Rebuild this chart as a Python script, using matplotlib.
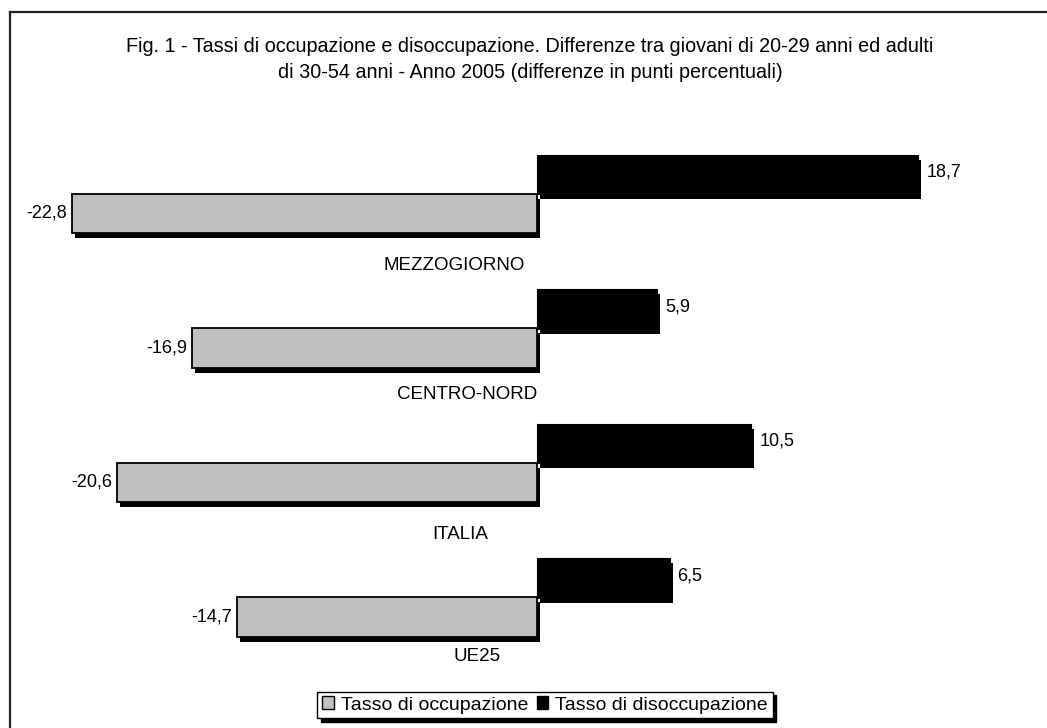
import matplotlib.pyplot as plt
from matplotlib.patches import Patch
from matplotlib.lines import Line2D
from matplotlib.transforms import ScaledTranslation

plt.rcParams['font.family'] = ['Liberation Sans', 'DejaVu Sans']

# Data: differences (percentage points) between 20-29 and 30-54 year olds, 2005
areas = ["MEZZOGIORNO", "CENTRO-NORD", "ITALIA", "UE25"]
occupazione = [-22.8, -16.9, -20.6, -14.7]
disoccupazione = [18.7, 5.9, 10.5, 6.5]
series_names = ["Tasso di occupazione", "Tasso di disoccupazione"]

title_lines = [
    "Fig. 1 - Tassi di occupazione e disoccupazione. Differenze tra giovani di 20-29 anni ed adulti",
    "di 30-54 anni - Anno 2005 (differenze in punti percentuali)",
]

W, H, DPI = 1047, 728, 100
fig = plt.figure(figsize=(W / DPI, H / DPI), dpi=DPI)
ax = fig.add_axes([0, 0, 1, 1])
ax.axis("off")

# horizontal scale: zero line at px 537, ~20.4 px per point
zero_px, px_unit = 537, 20.4
ax.set_xlim((0 - zero_px) / px_unit, (W - zero_px) / px_unit)
# vertical scale: one group every 134.5 px
grp_px = 134.5
off = 0.145
top = off - 213.5 / grp_px
ax.set_ylim(top + H / grp_px, top)

pos = list(range(len(areas)))
h = 0.297
grey_y = [p + off for p in pos]
black_y = [p - off for p in pos]

shadow_tr = ax.transData + ScaledTranslation(3 / DPI, -5 / DPI, fig.dpi_scale_trans)

# shadows first, then the bars on top
sb = ax.barh(black_y, disoccupazione, height=h, color="black", zorder=1)
for b in sb:
    b.set_transform(shadow_tr)
ax.barh(black_y, disoccupazione, height=h, color="black", edgecolor="black",
        linewidth=0.8, zorder=2)
sg = ax.barh(grey_y, occupazione, height=h, color="black", zorder=3)
for b in sg:
    b.set_transform(shadow_tr)
ax.barh(grey_y, occupazione, height=h, color="#c0c0c0", edgecolor="black",
        linewidth=1.3, zorder=4)

fmt = lambda v: f"{v:.1f}".replace(".", ",")
for y, v in zip(grey_y, occupazione):
    ax.annotate(fmt(v), (v, y), xytext=(-5, 0), textcoords="offset pixels",
                ha="right", va="center", fontsize=13)
for y, v in zip(black_y, disoccupazione):
    ax.annotate(fmt(v), (v, y), xytext=(8, 2), textcoords="offset pixels",
                ha="left", va="center", fontsize=13)

# category names below each pair of bars
label_dx = [-4.07, -3.43, -3.77, -2.94]
label_dy = [0.383, 0.349, 0.390, 0.297]
for name, y, dx, dy in zip(areas, grey_y, label_dx, label_dy):
    ax.text(dx, y + dy, name, ha="center", va="center", fontsize=13.5)

# title
fig.text(530 / W, 1 - 47 / H, title_lines[0], ha="center", va="center", fontsize=14.2)
fig.text(530 / W, 1 - 73 / H, title_lines[1], ha="center", va="center", fontsize=14.2)

# outer frame (top and left edges)
fig.add_artist(Line2D([10 / W, 1], [1 - 12 / H, 1 - 12 / H], color="#222222", lw=1.6))
fig.add_artist(Line2D([10 / W, 10 / W], [1 - 12 / H, 0], color="#222222", lw=1.6))

handles = [Patch(facecolor="#c0c0c0", edgecolor="black", linewidth=1),
           Patch(facecolor="black", edgecolor="black")]
leg = fig.legend(handles, series_names, loc="center", bbox_to_anchor=(545 / W, 1 - 705 / H),
                 ncol=2, fontsize=14, frameon=True, fancybox=False,
                 shadow={"ox": 2.5, "oy": -2.5, "facecolor": "black", "edgecolor": "black", "alpha": 1},
                 handlelength=0.6, handleheight=0.6, handletextpad=0.35, columnspacing=0.45,
                 borderpad=0.25, borderaxespad=0)
leg.get_frame().set_edgecolor("black")
leg.get_frame().set_linewidth(1)

fig.savefig("out.png", dpi=DPI)
